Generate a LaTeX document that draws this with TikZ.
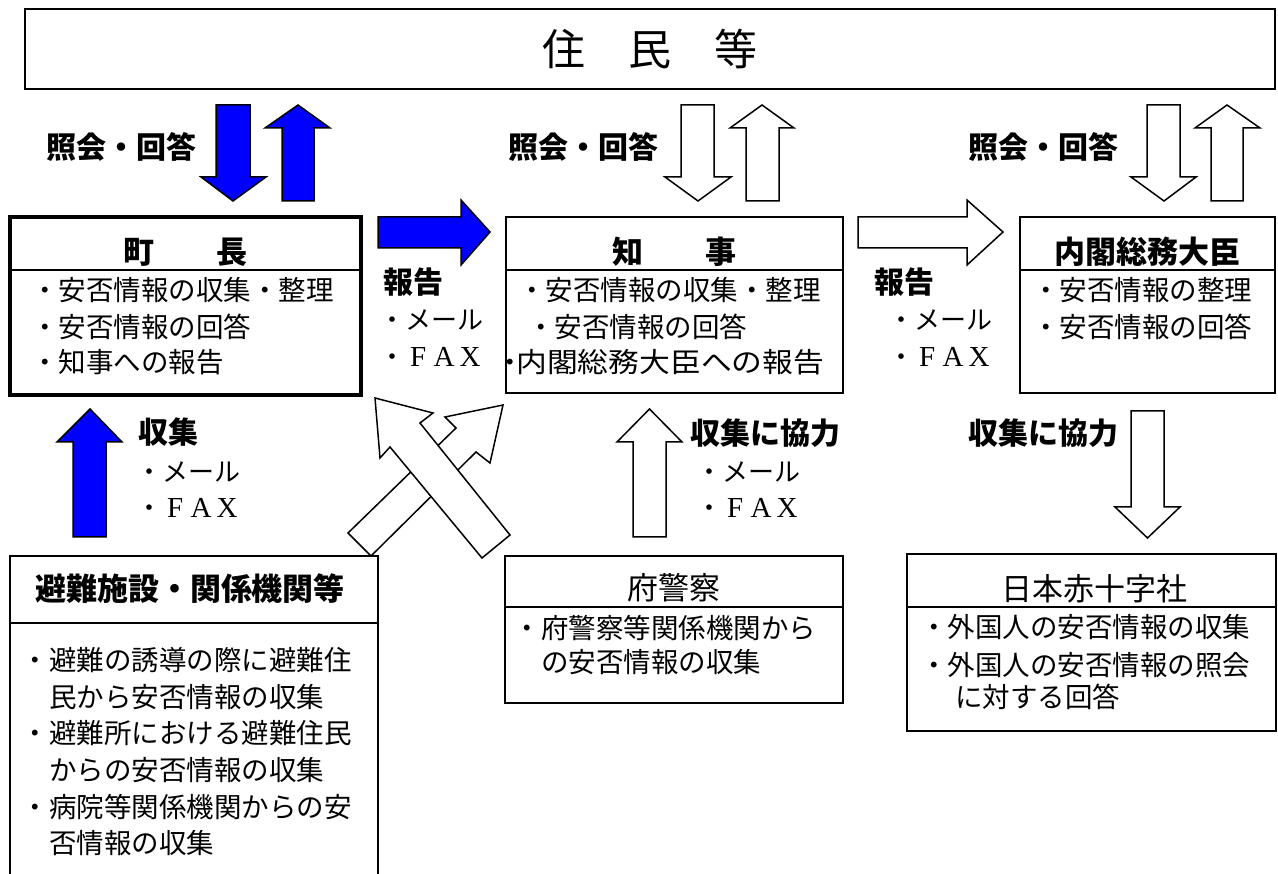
\documentclass[tikz,border=0pt]{standalone}
\usepackage{fontspec}
\usepackage{graphicx}
\newfontfamily\jp{Noto Sans CJK JP}
\newfontfamily\lserif{Liberation Serif}
\newcommand\FWch[1]{\makebox[26pt][c]{\lserif\fontsize{29}{30}\selectfont #1}}
\tikzset{
  box/.style={draw, line width=1.5pt, inner sep=0pt},
  body/.style={font=\jp\fontsize{27.5}{30}\selectfont, inner sep=0pt, anchor=west},
  small/.style={font=\jp\fontsize{26}{28}\selectfont, inner sep=0pt, anchor=west},
  lab/.style={font=\jp\bfseries\fontsize{30}{32}\selectfont, inner sep=0pt},
  ttl/.style={font=\jp\bfseries\fontsize{31}{33}\selectfont, inner sep=0pt},
  ttlr/.style={font=\jp\fontsize{31}{33}\selectfont, inner sep=0pt},
  barrow/.style={draw, line width=1.5pt, fill=blue, line join=miter},
  warrow/.style={draw, line width=1.5pt, fill=white, line join=miter},
  divider/.style={line width=1.5pt},
}
\begin{document}
\begin{tikzpicture}[x=1pt, y=-1pt]
\useasboundingbox (0,0) rectangle (1278,874);
\fill[white] (0,0) rectangle (1278,874);

% top box
\node[box, minimum width=1250pt, minimum height=80pt, font=\jp\fontsize{43}{45}\selectfont] (res) at (650,49) {住　民　等};

% vertical arrows to/from residents
\draw[barrow] (216,105) -- (250,105) -- (250,177) -- (266,177) -- (233,201) -- (201,177) -- (216,177) -- cycle;
\draw[barrow] (282,201) -- (314,201) -- (314,128) -- (330,128) -- (298,105) -- (265,128) -- (282,128) -- cycle;
\draw[warrow] (681,105) -- (714,105) -- (714,177) -- (731,177) -- (698,201) -- (665,177) -- (681,177) -- cycle;
\draw[warrow] (746,201) -- (779,201) -- (779,128) -- (794,128) -- (762,105) -- (730,128) -- (746,128) -- cycle;
\draw[warrow] (1147,105) -- (1180,105) -- (1180,177) -- (1196,177) -- (1164,201) -- (1131,177) -- (1147,177) -- cycle;
\draw[warrow] (1211,201) -- (1243,201) -- (1243,128) -- (1260,128) -- (1227,105) -- (1195,128) -- (1211,128) -- cycle;

\node[lab] (q1) at (121,147) {照会・回答};
\node[lab] (q2) at (583,147) {照会・回答};
\node[lab] (q3) at (1043,147) {照会・回答};

% mayor box
\node[box, line width=4.5pt, minimum width=351pt, minimum height=178pt] (mayor) at (185.5,306) {};
\node[ttl] (mayorT) at (185.5,252) {町　　長};
\draw[divider] (10,270) -- (361,270);
\node[body] (m1) at (31,290) {・安否情報の収集・整理};
\node[body] (m2) at (31,327) {・安否情報の回答};
\node[body] (m3) at (31,362) {・知事への報告};

% governor box
\node[box, minimum width=337pt, minimum height=176pt] (gov) at (674.5,305) {};
\node[ttl] (govT) at (674.5,252) {知　　事};
\draw[divider] (506,270) -- (843,270);
\node[body] (g1) at (518,290) {・安否情報の収集・整理};
\node[body] (g2) at (527,327) {・安否情報の回答};
\node[body] (g3) at (505,362) {\makebox[11pt][c]{・}\scalebox{1.12}[1]{内閣総務大臣への報告}};

% minister box
\node[box, minimum width=255pt, minimum height=176pt] (min) at (1147.5,305) {};
\node[ttl] (minT) at (1147.5,252) {内閣総務大臣};
\draw[divider] (1020,270) -- (1275,270);
\node[body] (n1) at (1032,290) {・安否情報の整理};
\node[body] (n2) at (1032,327) {・安否情報の回答};

% report arrows
\draw[barrow] (378,217) -- (461,217) -- (461,200) -- (490,232) -- (461,265) -- (461,248) -- (378,248) -- cycle;
\draw[warrow] (858,217) -- (967,217) -- (967,200) -- (1003,232) -- (967,265) -- (967,248) -- (858,248) -- cycle;
\node[lab] (r1) at (413.5,282) {報告};
\node[small] (r1a) at (379,320) {・メール};
\node[small] (r1b) at (379,357) {・\FWch{F}\FWch{A}\FWch{X}};
\node[lab] (r2) at (904.5,282) {報告};
\node[small] (r2a) at (888,320) {・メール};
\node[small] (r2b) at (888,357) {・\FWch{F}\FWch{A}\FWch{X}};

% collection arrow (blue, left)
\draw[barrow] (73,537) -- (106,537) -- (106,442) -- (122,442) -- (90,409) -- (57,442) -- (73,442) -- cycle;
\node[lab] (c1) at (168.5,432) {収集};
\node[small] (c1a) at (136,472) {・メール};
\node[small] (c1b) at (136,508) {・\FWch{F}\FWch{A}\FWch{X}};

% crossed diagonal arrows
\draw[warrow] (348,533) -- (456,428) -- (445,417) -- (503,405) -- (490,463) -- (476,452) -- (371,556) -- cycle;
\draw[warrow] (482,558) -- (390,447) -- (380,458) -- (375,398) -- (433,413) -- (420,423) -- (510,535) -- cycle;

% police arrow
\draw[warrow] (633,537) -- (666,537) -- (666,442) -- (682,442) -- (649.5,409) -- (617,442) -- (633,442) -- cycle;
\node[lab] (c2) at (765.5,433) {収集に協力};
\node[small] (c2a) at (696,472) {・メール};
\node[small] (c2b) at (696,508) {・\FWch{F}\FWch{A}\FWch{X}};

% red cross arrow
\draw[warrow] (1131,411) -- (1164,411) -- (1164,507) -- (1180,507) -- (1147.5,538) -- (1115,507) -- (1131,507) -- cycle;
\node[lab] (c3) at (1043.5,433) {収集に協力};

% evacuation facilities box (open at bottom)
\draw[line width=1.5pt] (10,874) -- (10,556) -- (378,556) -- (378,874);
\draw[divider] (10,623) -- (378,623);
\node[ttl] (evT) at (190,589) {避難施設・関係機関等};
\node[body] (e1) at (21.5,660) {・避難の誘導の際に避難住};
\node[body] (e2) at (49,697) {民から安否情報の収集};
\node[body] (e3) at (21.5,733) {・避難所における避難住民};
\node[body] (e4) at (49,770) {からの安否情報の収集};
\node[body] (e5) at (21.5,807) {・病院等関係機関からの安};
\node[body] (e6) at (49,843) {否情報の収集};

% police box
\node[box, minimum width=338pt, minimum height=147pt] (pol) at (674,629.5) {};
\node[ttlr] (polT) at (674,588) {府警察};
\draw[divider] (505,607) -- (843,607);
\node[body] (p1) at (513.5,628) {・府警察等関係機関から};
\node[body] (p2) at (541,662) {の安否情報の収集};

% red cross box
\node[box, minimum width=369pt, minimum height=177pt] (rc) at (1091.5,642.5) {};
\node[ttlr] (rcT) at (1094,589) {日本赤十字社};
\draw[divider] (907,607) -- (1276,607);
\node[body] (k1) at (920,627) {・外国人の安否情報の収集};
\node[body] (k2) at (920,665) {・外国人の安否情報の照会};
\node[body] (k3) at (955,697) {に対する回答};
\end{tikzpicture}
\end{document}
